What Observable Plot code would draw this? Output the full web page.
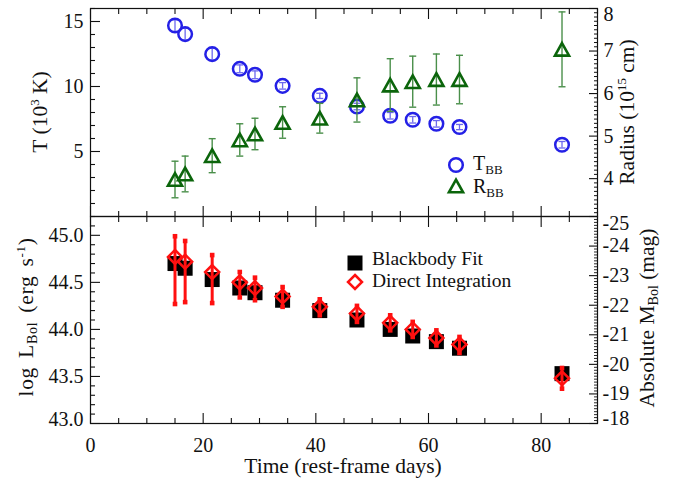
<!DOCTYPE html>
<html><head><meta charset="utf-8">
<script src="https://cdn.jsdelivr.net/npm/d3@7"></script>
<script src="https://cdn.jsdelivr.net/npm/@observablehq/plot@0.6"></script>
<style>
body{margin:0;background:#fff;}
#chart{position:relative;width:675px;height:479px;font-family:"Liberation Serif","Times New Roman",serif;color:#111;overflow:hidden;}
#chart svg.layer{position:absolute;left:0;top:0;}
.lbl{position:absolute;font-size:20px;line-height:16px;white-space:nowrap;}
.ttl{position:absolute;font-size:21.5px;line-height:16px;white-space:nowrap;}
.rot{transform:translate(-50%,-50%) rotate(-90deg);}
sub{font-size:0.65em;position:relative;top:0.28em;vertical-align:baseline;line-height:0;}
sup{font-size:0.6em;position:relative;top:-0.6em;vertical-align:baseline;line-height:0;}
.sym{position:absolute;overflow:visible;}
</style></head><body><div id="chart"></div>
<script>
// ---- data ----
const days      = [15.0, 16.8, 21.6, 26.5, 29.2, 34.1, 40.7, 47.3, 53.2, 57.2, 61.4, 65.5, 83.7];
const tempBB    = [14.69, 14.03, 12.49, 11.36, 10.90, 10.05, 9.28, 8.46, 7.75, 7.44, 7.13, 6.88, 5.52];
const tempErr   = [0.45, 0.45, 0.45, 0.30, 0.30, 0.25, 0.20, 0.25, 0.25, 0.25, 0.25, 0.20, 0.25];
const radiusBB  = [3.98, 4.11, 4.54, 4.91, 5.05, 5.32, 5.42, 5.85, 6.20, 6.28, 6.33, 6.33, 7.04];
const radiusErr = [0.43, 0.42, 0.40, 0.38, 0.37, 0.37, 0.35, 0.52, 0.62, 0.60, 0.60, 0.57, 0.88];
const logLFit   = [44.70, 44.65, 44.53, 44.44, 44.39, 44.31, 44.20, 44.10, 44.00, 43.93, 43.87, 43.80, 43.53];
const logLInt   = [44.77, 44.72, 44.61, 44.50, 44.44, 44.35, 44.24, 44.17, 44.07, 44.00, 43.91, 43.84, 43.48];
const logLIntHi = [44.99, 44.94, 44.79, 44.61, 44.55, 44.45, 44.32, 44.25, 44.15, 44.08, 43.99, 43.92, 43.59];
const logLIntLo = [44.27, 44.29, 44.28, 44.34, 44.31, 44.24, 44.15, 44.08, 43.99, 43.92, 43.83, 43.75, 43.37];

const xTicks = [0, 20, 40, 60, 80];
const tTicks = [5, 10, 15];
const rTicks = [4, 5, 6, 7, 8];
const lTicks = [43.0, 43.5, 44.0, 44.5, 45.0];
const mTicks = [-25, -24, -23, -22, -21, -20, -19, -18];

const xDomain = [0, 90];
const tDomain = [0, 16];
const rDomain = [3.11, 8];
const lDomain = [43.0, 45.2];
const mDomain = [-18, -25];

// ---- tables ----
const tRows = days.map((d, i) => ({day: d, v: tempBB[i], lo: tempBB[i] - tempErr[i], hi: tempBB[i] + tempErr[i]}));
const rRows = days.map((d, i) => ({day: d, v: radiusBB[i], lo: radiusBB[i] - radiusErr[i], hi: radiusBB[i] + radiusErr[i]}));
const lRows = days.map((d, i) => ({day: d, fit: logLFit[i], v: logLInt[i], lo: logLIntLo[i], hi: logLIntHi[i]}));

// minor tick positions
const notIn = (arr) => (v) => !arr.some(a => Math.abs(a - v) < 1e-6);
const xMinor = d3.range(0, 90.01, 5).filter(notIn(xTicks));
const tMinor = d3.range(1, 16.01, 1).filter(notIn(tTicks));
const rMinor = d3.range(3.2, 8.001, 0.1).map(v => +v.toFixed(1)).filter(notIn(rTicks));
const lMinor = d3.range(43.0, 45.2001, 0.1).map(v => +v.toFixed(1)).filter(notIn(lTicks));
const mMinor = d3.range(-25, -17.999, 0.1).map(v => +v.toFixed(1)).filter(notIn(mTicks));

// ---- symbols ----
const rOf = s => Math.sqrt(s / Math.PI);
const sym = {
  tri: {draw(c, s) { const r = rOf(s), w = r * 1.12; c.moveTo(0, -r); c.lineTo(w, r); c.lineTo(-w, r); c.closePath(); }},
  dia: {draw(c, s) { const r = rOf(s); c.moveTo(0, -r); c.lineTo(r, 0); c.lineTo(0, r); c.lineTo(-r, 0); c.closePath(); }},
  sq:  {draw(c, s) { const r = rOf(s); c.rect(-r, -r, 2 * r, 2 * r); }},
  cap: {draw(c, s) { const r = rOf(s); c.moveTo(-r, 0); c.lineTo(r, 0); }}
};

const FONT = '"Liberation Serif","Times New Roman",serif';
const base = (mt, mb) => ({
  width: 675, height: 479, marginLeft: 90, marginRight: 78, marginTop: mt, marginBottom: mb,
  style: {fontFamily: FONT, fontSize: "20px", color: "#111", background: "transparent", overflow: "visible"},
  className: "layer"
});
const BLUE = "#2420e6", BLUE_E = "#6c68ee", GREEN = "#0b650b", GREEN_E = "#4a8f4a", RED = "#ff1010";

function xTickMarks() {
  return [
    Plot.axisX(xTicks, {anchor: "bottom", tickSize: -10, fill: "none", label: null, strokeWidth: 1.1}),
    Plot.axisX(xMinor, {anchor: "bottom", tickSize: -5, fill: "none", label: null, strokeWidth: 1.1}),
    Plot.axisX(xTicks, {anchor: "top", tickSize: -10, fill: "none", label: null, strokeWidth: 1.1}),
    Plot.axisX(xMinor, {anchor: "top", tickSize: -5, fill: "none", label: null, strokeWidth: 1.1})
  ];
}

// ---- top panel: temperature ----
const topT = Plot.plot({
  ...base(8, 263),
  x: {domain: xDomain, axis: null, label: null},
  y: {domain: tDomain, axis: null, label: null},
  marks: [
    ...xTickMarks(),
    Plot.axisY(tTicks, {anchor: "left", tickSize: -10, fill: "none", label: null, strokeWidth: 1.1}),
    Plot.axisY(tMinor, {anchor: "left", tickSize: -5, fill: "none", label: null, strokeWidth: 1.1}),
    Plot.axisY(tTicks, {anchor: "left", tickSize: 0, tickPadding: 7, label: null, tickFormat: d => String(d)}),
    Plot.ruleX(tRows, {x: "day", y1: "lo", y2: "hi", stroke: BLUE_E, strokeWidth: 1.3}),
    Plot.dot(tRows, {x: "day", y: "lo", symbol: sym.cap, r: 3.5, stroke: BLUE_E, strokeWidth: 1.3, fill: "none"}),
    Plot.dot(tRows, {x: "day", y: "hi", symbol: sym.cap, r: 3.5, stroke: BLUE_E, strokeWidth: 1.3, fill: "none"}),
    Plot.dot(tRows, {x: "day", y: "v", r: 6.8, stroke: BLUE, strokeWidth: 2.5, fill: "none"}),
    Plot.frame({stroke: "#111", strokeWidth: 1.2})
  ]
});

// ---- top panel overlay: radius ----
const topR = Plot.plot({
  ...base(8, 263),
  x: {domain: xDomain, axis: null, label: null},
  y: {domain: rDomain, axis: null, label: null},
  marks: [
    Plot.axisY(rTicks, {anchor: "right", tickSize: -9, fill: "none", label: null, strokeWidth: 1.1}),
    Plot.axisY(rMinor, {anchor: "right", tickSize: -4, fill: "none", label: null, strokeWidth: 1}),
    Plot.axisY(rTicks.filter(v => v < 8), {anchor: "right", tickSize: 0, tickPadding: 6, label: null, tickFormat: d => String(d)}),
    Plot.axisY(rTicks.filter(v => v >= 8), {anchor: "right", tickSize: 0, tickPadding: 6, dy: 6, label: null, tickFormat: d => String(d)}),
    Plot.ruleX(rRows, {x: "day", y1: "lo", y2: "hi", stroke: GREEN_E, strokeWidth: 1.4}),
    Plot.dot(rRows, {x: "day", y: "lo", symbol: sym.cap, r: 3.5, stroke: GREEN_E, strokeWidth: 1.4, fill: "none"}),
    Plot.dot(rRows, {x: "day", y: "hi", symbol: sym.cap, r: 3.5, stroke: GREEN_E, strokeWidth: 1.4, fill: "none"}),
    Plot.dot(rRows, {x: "day", y: "v", symbol: sym.tri, r: 6.3, stroke: GREEN, strokeWidth: 2.6, fill: "none", strokeLinejoin: "miter"})
  ]
});

// ---- bottom panel: luminosity ----
const botL = Plot.plot({
  ...base(216, 56),
  x: {domain: xDomain, axis: null, label: null},
  y: {domain: lDomain, axis: null, label: null},
  marks: [
    ...xTickMarks(),
    Plot.axisX(xTicks, {anchor: "bottom", tickSize: 0, tickPadding: 14, label: null, tickFormat: d => String(d)}),
    Plot.axisY(lTicks, {anchor: "left", tickSize: -10, fill: "none", label: null, strokeWidth: 1.1}),
    Plot.axisY(lMinor, {anchor: "left", tickSize: -5, fill: "none", label: null, strokeWidth: 1.1}),
    Plot.axisY(lTicks.filter(v => v > 43), {anchor: "left", tickSize: 0, tickPadding: 7, label: null, tickFormat: d3.format(".1f")}),
    Plot.axisY(lTicks.filter(v => v <= 43), {anchor: "left", tickSize: 0, tickPadding: 7, dy: -4, label: null, tickFormat: d3.format(".1f")}),
    Plot.dot(lRows, {x: "day", y: "fit", symbol: sym.sq, r: 7.5, fill: "#000", stroke: "none"}),
    Plot.ruleX(lRows, {x: "day", y1: "lo", y2: "hi", stroke: RED, strokeWidth: 3}),
    Plot.dot(lRows, {x: "day", y: "lo", symbol: sym.sq, r: 2.3, fill: RED, stroke: "none"}),
    Plot.dot(lRows, {x: "day", y: "hi", symbol: sym.sq, r: 2.3, fill: RED, stroke: "none"}),
    Plot.dot(lRows, {x: "day", y: "v", symbol: sym.dia, r: 7, stroke: RED, strokeWidth: 2.5, fill: "none", strokeLinejoin: "miter"}),
    Plot.frame({stroke: "#111", strokeWidth: 1.2})
  ]
});

// ---- bottom panel overlay: absolute magnitude ----
const botM = Plot.plot({
  ...base(216, 56),
  x: {domain: xDomain, axis: null, label: null},
  y: {domain: mDomain, axis: null, label: null},
  marks: [
    Plot.axisY(mTicks, {anchor: "right", tickSize: -9, fill: "none", label: null, strokeWidth: 1.1}),
    Plot.axisY(mMinor, {anchor: "right", tickSize: -4, fill: "none", label: null, strokeWidth: 0.9}),
    Plot.axisY(mTicks.filter(v => v > -25 && v < -18), {anchor: "right", tickSize: 0, tickPadding: 5, label: null, tickFormat: d => String(d)}),
    Plot.axisY(mTicks.filter(v => v <= -25), {anchor: "right", tickSize: 0, tickPadding: 5, dy: 7, label: null, tickFormat: d => String(d)}),
    Plot.axisY(mTicks.filter(v => v >= -18), {anchor: "right", tickSize: 0, tickPadding: 5, dy: -5, label: null, tickFormat: d => String(d)})
  ]
});

const chart = document.getElementById("chart");
[botL, botM, topT, topR].forEach(s => { s.classList.add("layer"); chart.appendChild(s); });

// ---- titles and legends (HTML text) ----
const html = `
<div class="ttl rot" style="left:40px;top:112px;">T (10<sup>3</sup> K)</div>
<div class="ttl rot" style="left:26px;top:317px;word-spacing:3px;letter-spacing:0.7px;">log L<sub>Bol</sub> (erg s<sup>-1</sup>)</div>
<div class="ttl rot" style="left:627px;top:112px;">Radius (10<sup>15</sup> cm)</div>
<div class="ttl rot" style="left:647px;top:318px;">Absolute M<sub>Bol</sub> (mag)</div>
<div class="ttl" style="left:343px;top:458px;transform:translateX(-50%);">Time (rest-frame days)</div>

<svg class="sym" style="left:447px;top:156px;" width="18" height="18"><circle cx="9" cy="9" r="6.8" fill="none" stroke="${BLUE}" stroke-width="2.5"/></svg>
<div class="lbl" style="left:473px;top:155px;">T<sub>BB</sub></div>
<svg class="sym" style="left:447px;top:177px;" width="18" height="18"><path d="M9,2.7L16.06,15.3L1.94,15.3Z" fill="none" stroke="${GREEN}" stroke-width="2.6"/></svg>
<div class="lbl" style="left:473px;top:178px;">R<sub>BB</sub></div>

<svg class="sym" style="left:346px;top:254px;" width="18" height="18"><rect x="1.5" y="1.5" width="15" height="15" fill="#000"/></svg>
<div class="lbl" style="left:372px;top:250.7px;font-size:19.5px;">Blackbody Fit</div>
<svg class="sym" style="left:346px;top:273px;" width="18" height="18"><path d="M9,2L16,9L9,16L2,9Z" fill="none" stroke="${RED}" stroke-width="2.5"/></svg>
<div class="lbl" style="left:372px;top:272.9px;font-size:19.5px;">Direct Integration</div>
`;
chart.insertAdjacentHTML("beforeend", html);
</script>
</body></html>
